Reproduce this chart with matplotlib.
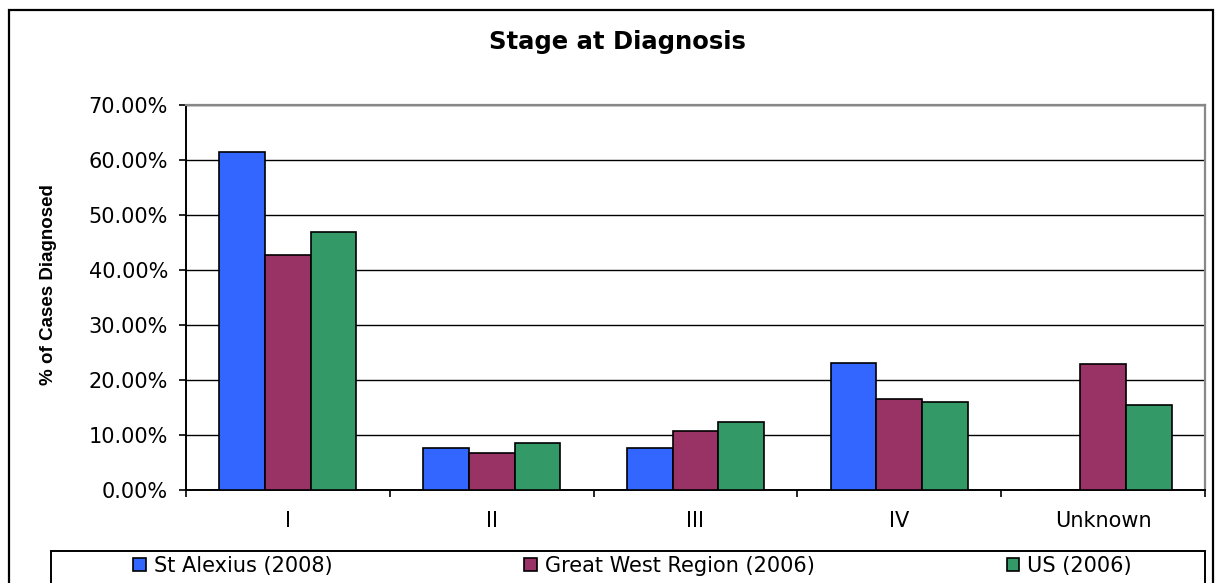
import numpy as np
import matplotlib
matplotlib.use("Agg")
import matplotlib.pyplot as plt
from matplotlib import font_manager
from matplotlib.patches import Rectangle
from matplotlib.ticker import FuncFormatter, FixedLocator

# data (percent of cases diagnosed)
stages = ["I", "II", "III", "IV", "Unknown"]
series_names = ["St Alexius (2008)", "Great West Region (2006)", "US (2006)"]
st_alexius = [61.5, 7.7, 7.7, 23.1, 0.0]
great_west = [42.8, 6.8, 10.8, 16.5, 22.9]
us = [47.0, 8.6, 12.3, 16.0, 15.5]
colors = ["#3366FF", "#993366", "#339966"]

W, H = 1215, 583
fig = plt.figure(figsize=(W / 100, H / 100), dpi=100)

def fx(px):
    return px / W

def fy(py):
    return 1 - py / H

# outer chart frame
fig.patches.append(Rectangle((fx(9), fy(600)), fx(1213) - fx(9), fy(10) - fy(600),
                             transform=fig.transFigure, fill=False, ec="black", lw=1.6))

ax = fig.add_axes([fx(186), fy(490), fx(1205) - fx(186), fy(105) - fy(490)])

x = np.arange(len(stages))
width = 0.224
bars = []
for i, (vals, c) in enumerate(zip([st_alexius, great_west, us], colors)):
    b = ax.bar(x + (i - 1) * width, vals, width=width, color=c, edgecolor="black",
               linewidth=1.2, zorder=3)
    bars.append(b)

ax.set_xlim(-0.5, 4.5)
ax.set_ylim(0, 70)
ax.set_yticks(np.arange(0, 71, 10))
ax.yaxis.set_major_formatter(FuncFormatter(lambda v, p: "{:.2f}%".format(v)))
ax.yaxis.grid(True, color="black", linewidth=1.0, zorder=0)
ax.set_axisbelow(True)

# ticks between categories, labels at category centres
ax.xaxis.set_major_locator(FixedLocator(np.arange(-0.5, 4.6, 1.0)))
ax.xaxis.set_minor_locator(FixedLocator(x))
ax.set_xticklabels([], minor=False)
ax.set_xticklabels(stages, minor=True)
ax.tick_params(axis="x", which="major", direction="out", length=5, width=1.2)
ax.tick_params(axis="x", which="minor", length=0, pad=15, labelsize=15)
ax.tick_params(axis="y", direction="out", length=5, width=1.2, pad=8, labelsize=15)

for s in ["left", "bottom"]:
    ax.spines[s].set_color("black")
    ax.spines[s].set_linewidth(1.4)
for s in ["top", "right"]:
    ax.spines[s].set_color("#888888")
    ax.spines[s].set_linewidth(1.6)

# y label in a narrow bold face if available
names = {f.name for f in font_manager.fontManager.ttflist}
if "Liberation Sans Narrow" in names:
    ax.set_ylabel("% of Cases Diagnosed", family="Liberation Sans Narrow",
                  fontweight="bold", fontsize=14.5)
else:
    ax.set_ylabel("% of Cases Diagnosed", family="Liberation Sans",
                  fontweight="bold", fontsize=13.5)
ax.yaxis.set_label_coords((49 - 186) / (1205 - 186), (490 - 285) / (490 - 105))
ax.yaxis.label.set_va("center")

fig.text(fx(617), fy(42), "Stage at Diagnosis", ha="center", va="center",
         fontsize=17.5, fontweight="bold")

# legend box
fig.patches.append(Rectangle((fx(51), fy(620)), fx(1205) - fx(51), fy(551) - fy(620),
                             transform=fig.transFigure, fill=False, ec="black", lw=1.4))
fig.legend(bars, series_names, loc="center", ncol=3, mode="expand", frameon=False,
           bbox_to_anchor=(fx(133), fy(580), fx(1132) - fx(133), fy(552) - fy(580)),
           fontsize=15, handlelength=0.6, handleheight=0.6, handletextpad=0.4,
           borderpad=0, borderaxespad=0)

fig.savefig("out.png", dpi=100)
